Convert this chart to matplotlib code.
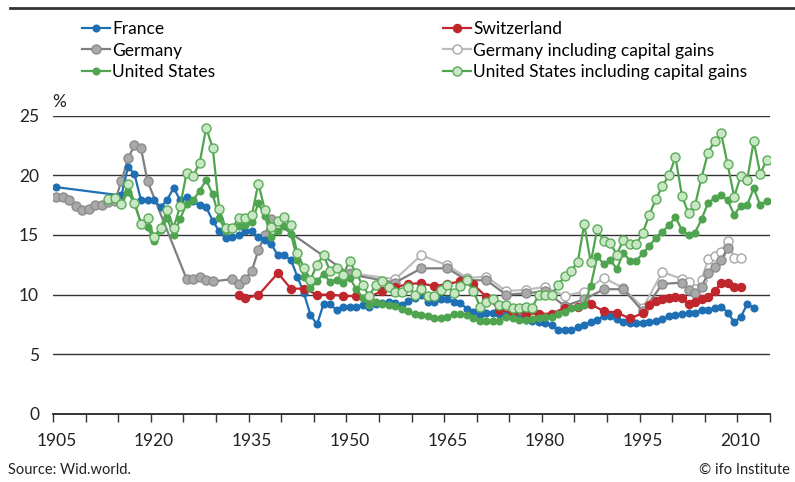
import numpy as np
import matplotlib.pyplot as plt
from matplotlib.lines import Line2D

plt.rcParams['font.family'] = ['Lato', 'DejaVu Sans']

# France: 1905, then 1915-2012
fr_years = [1905] + list(range(1915, 2013))
fr_vals = [19.0,
           18.3, 20.7, 20.1, 17.9, 17.9, 17.9, 17.35, 17.9, 18.95, 17.9,
           18.2, 17.8, 17.5, 17.3, 16.2, 15.3, 14.7, 14.8, 15.0, 15.3,
           15.3, 14.8, 14.6, 14.2, 13.3, 13.3, 12.9, 11.5, 10.1, 8.3,
           7.5, 9.2, 9.2, 8.7, 8.95, 8.95, 9.0, 9.1, 9.0, 9.2,
           9.3, 9.4, 9.3, 9.1, 9.45, 9.7, 9.95, 9.4, 9.4, 9.6,
           9.6, 9.4, 9.3, 8.8, 8.55, 8.3, 8.5, 8.5, 8.4, 8.3,
           8.2, 8.0, 7.85, 7.75, 7.7, 7.6, 7.45, 7.05, 7.0, 7.0,
           7.25, 7.45, 7.7, 7.9, 8.2, 8.2, 7.95, 7.7, 7.6, 7.6,
           7.6, 7.7, 7.8, 7.95, 8.2, 8.3, 8.4, 8.45, 8.5, 8.7,
           8.7, 8.9, 9.0, 8.5, 7.7, 8.1, 9.2, 8.9]

# Switzerland
ch_years = [1933, 1934, 1936] + list(range(1939, 1996, 2)) + list(range(1996, 2011))
ch_vals = [9.95, 9.7, 9.95,
           11.8, 10.5, 10.5, 10.0, 10.0, 9.9, 9.85, 9.8, 10.3, 10.6,
           10.9, 10.95, 10.7, 10.9, 11.1, 10.85, 9.8, 8.75, 8.45, 8.4,
           8.4, 8.4, 8.9, 9.0, 9.2, 8.6, 8.5, 8.0, 8.45,
           9.1, 9.5, 9.6, 9.75, 9.8, 9.75, 9.2, 9.4, 9.6, 9.8,
           10.3, 10.95, 10.95, 10.6, 10.6]

# Germany
de_years = (list(range(1905, 1920)) + list(range(1925, 1930)) + list(range(1932, 1939))
            + [1950, 1957, 1961, 1965, 1968, 1971, 1974, 1977, 1980, 1983, 1986,
               1989, 1992, 1995, 1998] + list(range(2001, 2009)))
de_vals = [18.2, 18.15, 17.95, 17.4, 17.1, 17.2, 17.5, 17.5, 17.75, 17.85,
           19.5, 21.4, 22.5, 22.25, 19.5,
           11.3, 11.3, 11.5, 11.2, 11.1,
           11.3, 10.9, 11.3, 12.0, 13.7, 15.0, 16.3,
           11.7, 11.0, 12.2, 12.2, 11.2, 11.2, 10.0, 10.1, 10.3, 9.05, 9.6,
           10.45, 10.45, 8.6, 10.9,
           11.0, 10.35, 10.1, 10.6, 11.85, 12.3, 12.9, 13.9]

# Germany including capital gains
dek_years = ([1950, 1957, 1961, 1965, 1968, 1971, 1974, 1977, 1980, 1983, 1986,
              1989, 1992, 1995, 1998] + list(range(2001, 2011)))
dek_vals = [11.8, 11.3, 13.3, 12.45, 11.4, 11.5, 10.3, 10.4, 10.65, 9.9, 10.25,
            11.4, 10.55, 8.9, 11.9,
            11.3, 11.05, 10.5, 11.2, 12.95, 13.2, 13.6, 14.5, 13.1, 13.1]

# United States, 1913-2014
us_years = list(range(1913, 2015))
us_vals = [17.9, 18.0, 17.6, 18.6, 17.6, 16.0, 15.7, 14.45, 15.4, 16.4,
           15.0, 16.35, 17.6, 17.9, 18.7, 19.6, 18.4, 16.4, 15.3, 15.5,
           15.75, 15.8, 16.1, 17.65, 16.6, 14.8, 15.35, 15.75, 15.1, 12.9,
           11.5, 10.55, 11.1, 11.75, 11.05, 11.25, 11.0, 11.4, 10.5, 9.75,
           9.15, 9.4, 9.25, 9.1, 9.05, 8.8, 8.65, 8.35, 8.33, 8.2,
           8.07, 8.0, 8.15, 8.37, 8.4, 8.27, 8.05, 7.8, 7.75, 7.75,
           7.75, 8.1, 8.05, 7.9, 7.9, 7.95, 8.05, 8.15, 8.1, 8.4,
           8.58, 8.9, 9.0, 9.15, 10.75, 13.2, 12.55, 12.9, 12.15, 13.5,
           12.85, 12.85, 13.45, 14.1, 14.75, 15.28, 15.8, 16.5, 15.38, 14.97,
           15.2, 16.3, 17.7, 18.06, 18.3, 17.9, 16.7, 17.4, 17.5, 18.9,
           17.5, 17.85]

# United States including capital gains, 1913-2014
usk_vals = [18.0, 18.1, 17.56, 19.3, 17.7, 15.95, 16.4, 14.8, 15.6, 17.05,
            15.6, 17.4, 20.2, 19.9, 21.05, 23.95, 22.3, 17.2, 15.55, 15.55,
            16.45, 16.4, 16.65, 19.3, 17.1, 15.7, 16.2, 16.5, 15.8, 13.45,
            12.25, 11.25, 12.5, 13.3, 12.0, 12.2, 11.65, 12.8, 11.8, 10.8,
            9.9, 10.8, 11.1, 10.6, 10.2, 10.25, 10.66, 10.0, 10.5, 9.9,
            9.87, 10.4, 10.8, 10.1, 10.7, 11.2, 10.3, 9.0, 9.4, 9.6,
            9.1, 9.1, 8.9, 8.9, 9.0, 8.9, 9.96, 10.0, 10.0, 10.8,
            11.56, 12.0, 12.7, 15.9, 12.7, 15.5, 14.45, 14.3, 13.35, 14.6,
            14.25, 14.2, 15.2, 16.7, 18.0, 19.1, 20.0, 21.5, 18.25, 16.8,
            17.5, 19.8, 21.9, 22.85, 23.5, 20.9, 18.2, 19.9, 19.6, 22.85,
            20.1, 21.3]

label_years = [1905, 1920, 1935, 1950, 1965, 1980, 1995, 2010]

fig = plt.figure(figsize=(7.95, 4.82), dpi=100)
ax = fig.add_axes([53/795, 1-414/482, 717/795, (414-115.5)/482])

def draw(x, y, color, mfc, mec, ms, label, z):
    return ax.plot(x, y, '-o', color=color, mfc=mfc, mec=mec, ms=ms, mew=1,
                   lw=1.6, label=label, zorder=z)[0]

h_dek = draw(dek_years, dek_vals, '#bdbdbd', 'white', '#a6a6a6', 6.5, 'Germany including capital gains', 3)
h_de = draw(de_years, de_vals, '#7f7f7f', '#a9a9a9', '#8c8c8c', 6.5, 'Germany', 4)
h_fr = draw(fr_years, fr_vals, '#1f6fb4', '#1f6fb4', '#1f6fb4', 4.8, 'France', 5)
h_ch = draw(ch_years, ch_vals, '#c0272d', '#c0272d', '#c0272d', 5.8, 'Switzerland', 6)
h_us = draw(us_years, us_vals, '#4fa54f', '#4fa54f', '#4fa54f', 4.8, 'United States', 7)
h_usk = draw(us_years, usk_vals, '#4fa54f', '#c9e6c5', '#5aac58', 6.5, 'United States including capital gains', 8)

ax.set_xlim(1904.5, 2014.5)
ax.set_ylim(0, 25)
for g in [5, 10, 15, 20, 25]:
    ax.axhline(g, color='#333333', lw=1.0, zorder=1)

for s in ['top', 'right', 'left']:
    ax.spines[s].set_visible(False)
ax.spines['bottom'].set_color('#333333')
ax.spines['bottom'].set_linewidth(1.4)

ax.set_xticks(label_years)
ax.set_xticklabels([str(y) for y in label_years], fontsize=12.5, color='#222222')
ax.tick_params(axis='x', which='major', length=0, pad=14)
ax.set_xticks(np.arange(1904.5, 2015, 5), minor=True)
ax.tick_params(axis='x', which='minor', length=6, width=1, color='#333333')
ax.set_yticks([0, 5, 10, 15, 20, 25])
ax.set_yticklabels(['0', '5', '10', '15', '20', '25'], fontsize=12.5, color='#222222')
ax.tick_params(axis='y', length=0, pad=10)

fig.text(52/795, 1-102/482, '%', fontsize=12.5, va='center', color='#222222')
fig.add_artist(Line2D([10/795, 1], [1-8/482, 1-8/482], color='#333333', lw=2))
fig.text(8/795, 1-470/482, 'Source: Wid.world.', fontsize=10.5, va='center', color='#222222')
fig.text(790/795, 1-470/482, '\u00a9 ifo Institute', fontsize=10.5, va='center', ha='right', color='#222222')

leg_kw = dict(loc='upper left', frameon=False, fontsize=12.5, handlelength=1.6,
              handletextpad=0.15, labelspacing=0.32, borderpad=0, borderaxespad=0)
leg1 = fig.legend(handles=[h_fr, h_de, h_us], bbox_to_anchor=(82/795, 1-21/482), **leg_kw)
leg2 = fig.legend(handles=[h_ch, h_dek, h_usk], bbox_to_anchor=(443/795, 1-21/482), **leg_kw)

fig.savefig('out.png', dpi=100)
